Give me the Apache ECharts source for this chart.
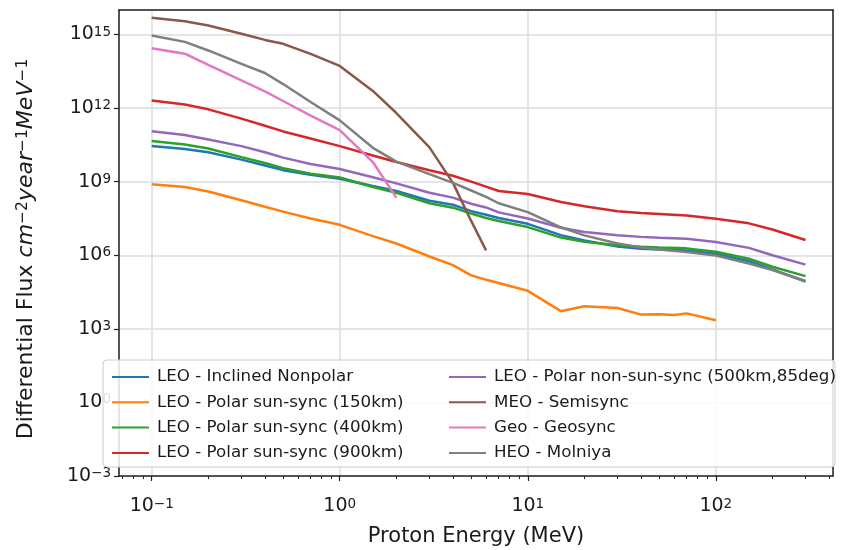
<!DOCTYPE html>
<html>
<head>
<meta charset="utf-8">
<script src="https://cdn.jsdelivr.net/npm/echarts@6/dist/echarts.min.js"></script>
<style>
html,body{margin:0;padding:0;background:#fff;}
#chart{width:846px;height:550px;}
</style>
</head>
<body>
<div id="chart"></div>
<script>
// proton energies (MeV)
var energy = [0.1,0.15,0.2,0.3,0.4,0.5,0.7,1,1.5,2,3,4,5,6,7,10,15,20,30,40,50,70,100,150,200,300];
var energy150 = [0.1,0.15,0.2,0.3,0.4,0.5,0.7,1,1.5,2,3,4,5,6,7,10,15,20,30,40,50,60,70,100];

// differential flux, cm^-2 year^-1 MeV^-1
var leoInclined = [2.82e10,2.14e10,1.58e10,7.94e9,4.57e9,2.95e9,1.91e9,1.32e9,6.61e8,4.17e8,1.66e8,1.15e8,6.31e7,4.47e7,3.31e7,1.91e7,6.61e6,3.98e6,2.29e6,1.86e6,1.7e6,1.55e6,1.15e6,5.75e5,2.63e5,8.51e4];
var leo150 = [7.94e8,6.03e8,3.98e8,1.74e8,9.55e7,6.03e7,3.16e7,1.74e7,6.03e6,3.02e6,8.91e5,3.98e5,1.51e5,1.0e5,7.41e4,3.55e4,5.25e3,8.32e3,7.08e3,3.8e3,3.98e3,3.63e3,4.27e3,2.24e3];
var leo400 = [4.57e10,3.31e10,2.24e10,1.0e10,5.75e9,3.55e9,2.09e9,1.48e9,6.03e8,3.55e8,1.32e8,8.71e7,5.01e7,3.31e7,2.51e7,1.41e7,5.25e6,3.55e6,2.57e6,2.24e6,2.09e6,1.91e6,1.38e6,7.24e5,3.39e5,1.41e5];
var leo900 = [2.04e12,1.41e12,8.91e11,3.72e11,1.91e11,1.12e11,5.75e10,2.82e10,1.17e10,6.31e9,2.95e9,1.74e9,1.0e9,6.31e8,4.17e8,3.16e8,1.48e8,1.0e8,6.17e7,5.25e7,4.79e7,4.17e7,3.09e7,2.0e7,1.12e7,4.17e6];
var leoNonSun = [1.15e11,7.94e10,5.25e10,2.82e10,1.58e10,9.55e9,5.25e9,3.31e9,1.51e9,8.51e8,3.55e8,2.24e8,1.26e8,8.91e7,5.62e7,3.16e7,1.32e7,8.91e6,6.61e6,5.62e6,5.13e6,4.68e6,3.47e6,2.0e6,1.0e6,4.17e5];
var meo = [4.79e15,3.47e15,2.34e15,1.07e15,6.03e14,4.17e14,1.62e14,5.25e13,5.01e12,6.31e11,2.51e10,8.91e8,2.51e7,1.58e6];
var geo = [2.75e14,1.66e14,5.75e13,1.35e13,4.79e12,1.95e12,4.9e11,1.26e11,6.31e9,2.24e8];
var heo = [9.12e14,5.01e14,2.24e14,6.31e13,2.69e13,9.55e12,1.78e12,3.16e11,2.4e10,6.61e9,2.04e9,8.91e8,4.37e8,2.4e8,1.32e8,5.75e7,1.38e7,6.46e6,3.02e6,2.09e6,1.7e6,1.35e6,9.77e5,4.57e5,2.51e5,8.91e4];

var names = ['LEO - Inclined Nonpolar','LEO - Polar sun-sync (150km)','LEO - Polar sun-sync (400km)','LEO - Polar sun-sync (900km)',
             'LEO - Polar non-sun-sync (500km,85deg)','MEO - Semisync','Geo - Geosync','HEO - Molniya'];
var colors = ['#1f77b4','#ff7f0e','#2ca02c','#d62728','#9467bd','#8c564b','#e377c2','#7f7f7f'];
var seriesY = [leoInclined,leo150,leo400,leo900,leoNonSun,meo,geo,heo];
var seriesX = [energy,energy150,energy,energy,energy,energy,energy,energy];

var FONT = 'DejaVu Sans';
var INK = '#1a1a1a';
var XMIN = 0.067, XMAX = 420, YMIN = 1e-3, YMAX = 1e16;

// log minor ticks 2..9 per decade
var minorTicks = [];
[0.01,0.1,1,10,100].forEach(function(d){
  for (var k=2;k<10;k++) minorTicks.push(+(d*k).toPrecision(3));
});

function powLabel(v){
  var e = Math.round(Math.log10(v));
  return '{b|10}{sup|' + (e<0 ? '\u2212'+(-e) : e) + '}';
}
var powRich = {
  b:{fontFamily:FONT,fontSize:19,color:INK,lineHeight:19,padding:[6,0,0,0],verticalAlign:'bottom'},
  sup:{fontFamily:FONT,fontSize:13.5,color:INK,lineHeight:14,verticalAlign:'top'}
};
var spine = {show:true,onZero:false,lineStyle:{color:'#222',width:1.5}};

var chart = echarts.init(document.getElementById('chart'));

var series = names.map(function(n,i){
  return {
    name:n, type:'line', xAxisIndex:0, yAxisIndex:0,
    data: seriesX[i].map(function(x,j){ return [x, seriesY[i][j]]; }),
    showSymbol:false, symbol:'none',
    lineStyle:{color:colors[i],width:2.5},
    itemStyle:{color:colors[i]},
    z:3
  };
});

var legendCommon = {
  orient:'vertical', itemWidth:37, itemHeight:20, itemGap:5.3, top:362, z:10,
  icon:'path://M0,9L37,9L37,11L0,11Z',
  textStyle:{fontFamily:FONT,fontSize:16.7,color:INK,lineHeight:20,padding:[0,0,0,3]}
};

var option = {
  animation:false,
  backgroundColor:'#fff',
  color:colors,
  grid:{left:119,right:13,top:10,bottom:74,outerBoundsMode:'none',containLabel:false},
  xAxis:[{
    type:'log', logBase:10, min:XMIN, max:XMAX,
    name:'Proton Energy (MeV)', nameLocation:'middle', nameGap:50,
    nameTextStyle:{fontFamily:FONT,fontSize:21,color:INK},
    axisLine:spine,
    axisTick:{show:true,length:5,lineStyle:{color:'#222',width:1.2}},
    axisLabel:{formatter:powLabel,rich:powRich,margin:21,showMinLabel:false,showMaxLabel:false},
    splitLine:{show:true,lineStyle:{color:'#dcdcdc',width:1.5}}
  },{
    type:'log', logBase:10, min:XMIN, max:XMAX, position:'bottom',
    axisLine:{show:false}, axisLabel:{show:false}, splitLine:{show:false},
    axisTick:{show:true,length:3,customValues:minorTicks,lineStyle:{color:'#222',width:1}}
  },{
    type:'log', logBase:10, min:XMIN, max:XMAX, position:'top',
    axisLine:spine, axisTick:{show:false}, axisLabel:{show:false}, splitLine:{show:false}
  }],
  yAxis:[{
    type:'log', logBase:10, min:YMIN, max:YMAX, interval:3,
    name:'{t|Differential Flux }{it|cm}{sup|\u22122}{it|year}{sup|\u22121}{it|MeV}{end|\u22121}',
    nameLocation:'middle', nameGap:82, nameRotate:90,
    nameTextStyle:{
      fontFamily:FONT,fontSize:21,color:INK,
      rich:{
        t:{fontFamily:FONT,fontSize:22,color:INK,lineHeight:22,padding:[6,0,0,0],verticalAlign:'bottom'},
        it:{fontFamily:FONT,fontSize:22,fontStyle:'italic',color:INK,lineHeight:22,padding:[6,0,0,0],verticalAlign:'bottom'},
        sup:{fontFamily:FONT,fontSize:15.5,color:INK,lineHeight:16,verticalAlign:'top'},
        end:{fontFamily:FONT,fontSize:15.5,color:INK,lineHeight:16,verticalAlign:'top',padding:[0,12,0,0]}
      }
    },
    axisLine:spine,
    axisTick:{show:true,length:5,lineStyle:{color:'#222',width:1.2}},
    axisLabel:{formatter:powLabel,rich:powRich,margin:8,showMaxLabel:false},
    splitLine:{show:true,lineStyle:{color:'#dcdcdc',width:1.5}}
  },{
    type:'log', logBase:10, min:YMIN, max:YMAX, position:'right',
    axisLine:spine, axisTick:{show:false}, axisLabel:{show:false}, splitLine:{show:false}
  }],
  legend:[
    Object.assign({left:107,data:names.slice(0,4)},legendCommon),
    Object.assign({left:444,data:names.slice(4)},legendCommon)
  ],
  graphic:[{
    type:'rect', z:5,
    shape:{x:103,y:360,width:732,height:107,r:4},
    style:{fill:'rgba(255,255,255,0.85)',stroke:'#cccccc',lineWidth:1}
  }],
  series:series
};
chart.setOption(option);
</script>
</body>
</html>
